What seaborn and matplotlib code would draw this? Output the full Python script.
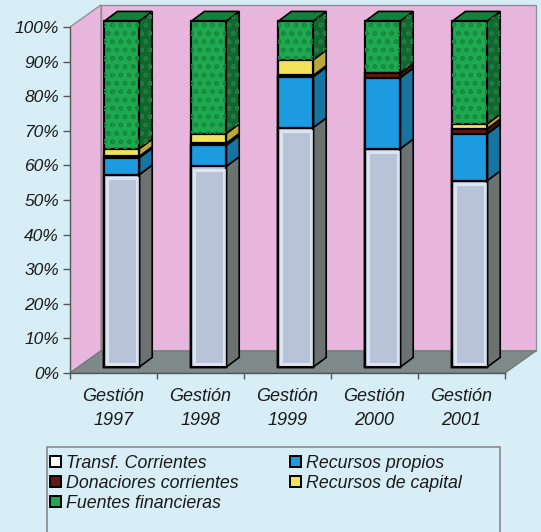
import numpy as np
import pandas as pd
import matplotlib
matplotlib.use("Agg")
import matplotlib.pyplot as plt
from matplotlib.patches import Polygon, Patch, Rectangle
import seaborn as sns

# ---- data (% of total income per fiscal year) ----
years = ["1997", "1998", "1999", "2000", "2001"]
categories = [f"Gestión\n{y}" for y in years]
transf_corrientes = [55.6, 58.0, 69.2, 63.1, 53.9]
recursos_propios = [4.9, 6.1, 14.7, 20.5, 13.5]
donaciones_corrientes = [0.4, 0.6, 0.4, 1.4, 1.5]
recursos_capital = [2.2, 2.8, 4.5, 0.0, 1.4]
fuentes_financieras = [36.9, 32.5, 11.2, 15.0, 29.7]

series_names = ["Transf. Corrientes", "Recursos propios", "Donaciores corrientes",
                "Recursos de capital", "Fuentes financieras"]
series_values = [transf_corrientes, recursos_propios, donaciones_corrientes,
                 recursos_capital, fuentes_financieras]
front_colors = ["#b8c3d8", "#1c9be0", "#6a1515", "#f2e35a", "#20a851"]
side_colors = ["#6c7272", "#17739f", "#480c0c", "#b9a93a", "#0f6830"]
tick_values = list(range(0, 101, 10))
tick_labels = [f"{v}%" for v in tick_values]

sns.set_theme(style="white")
plt.rcParams["font.family"] = ["Liberation Sans", "DejaVu Sans"]
plt.rcParams["hatch.linewidth"] = 0.9

BG = "#d7eef6"
WALL = "#e8b5dd"
FLOOR = "#7e8a89"
TXT = "#1a1a1a"

fig = plt.figure(figsize=(5.41, 5.32), dpi=100, facecolor=BG)
ax = fig.add_axes([70 / 541, 1 - 373 / 532, 471 / 541, 373 / 532])
ax.set_facecolor("none")

# depth of the box (walls / floor) and of each bar, in data units
DX, DY = 0.356, 6.4
OX, OY = 0.095, 1.7          # bar front offset from the floor front edge
BX, BY = 0.15, 2.8           # bar depth
BW = 0.40                    # bar width
n = len(categories)

# ---- walls and floor ----
x0, x1 = -0.5, n - 0.5
ax.add_patch(Polygon([(x0, 0), (x0, 100), (x0 + DX, 100 + DY), (x0 + DX, DY)],
                     closed=True, fc=WALL, ec="#8c8c8c", lw=0.9, zorder=0))
ax.add_patch(Polygon([(x0 + DX, DY), (x0 + DX, 100 + DY), (x1 + DX, 100 + DY), (x1 + DX, DY)],
                     closed=True, fc=WALL, ec="#8c8c8c", lw=0.9, zorder=0))
ax.add_patch(Polygon([(x0, 0), (x1, 0), (x1 + DX, DY), (x0 + DX, DY)],
                     closed=True, fc=FLOOR, ec="#6f7777", lw=0.9, zorder=0.5))

# ---- stacked bars (front faces) drawn as cumulative layers ----
cum = np.cumsum(np.array(series_values), axis=0)   # shape (series, categories)

for k in range(len(series_names) - 1, -1, -1):
    before = len(ax.patches)
    sns.barplot(x=categories, y=cum[k], order=categories, color=front_colors[k],
                width=BW, edgecolor="black", linewidth=1.6, saturation=1,
                ax=ax, zorder=3)
    for p in ax.patches[before:]:
        p.set_x(p.get_x() + OX)
        p.set_y(p.get_y() + OY)
        p.set_zorder(3 + (len(series_names) - k) * 0.01)

# soft highlight inside the light segment, texture on the green one
for i in range(n):
    xl = i - BW / 2 + OX
    ax.add_patch(Rectangle((xl + 0.03, OY + 0.9), BW - 0.06, transf_corrientes[i] - 1.8,
                           fc="none", ec="#e4eef8", lw=2.2, alpha=0.8, zorder=3.1))
    bottom = cum[-2][i] + OY
    ax.add_patch(Rectangle((xl, bottom), BW, fuentes_financieras[i], fc="none",
                           ec="#118a3d", lw=0, hatch="oo", zorder=3.2))

# ---- side and top faces ----
for i in range(n):
    xr = i + BW / 2 + OX
    xl = i - BW / 2 + OX
    bottoms = np.concatenate([[0], cum[:-1, i]]) + OY
    tops = cum[:, i] + OY
    for k in range(len(series_names)):
        b, t = bottoms[k], tops[k]
        if t - b <= 0:
            continue
        ax.add_patch(Polygon([(xr, b), (xr + BX, b + BY), (xr + BX, t + BY), (xr, t)],
                             closed=True, fc=side_colors[k], ec="black", lw=1.2, zorder=2.9))
        if k == len(series_names) - 1:
            ax.add_patch(Polygon([(xr, b), (xr + BX, b + BY), (xr + BX, t + BY), (xr, t)],
                                 closed=True, fc="none", ec="#2a7a45", lw=0, hatch="oo",
                                 zorder=2.95))
    top = tops[-1]
    ax.add_patch(Polygon([(xl, top), (xl + BX, top + BY), (xr + BX, top + BY), (xr, top)],
                         closed=True, fc="#12813c", ec="black", lw=1.2, zorder=2.9))

# ---- axes ----
ax.set_xlim(-0.5, -0.5 + 471 / 87)
ax.set_ylim(0, 373 / 3.46)
for s in ["top", "right"]:
    ax.spines[s].set_visible(False)
ax.spines["left"].set_bounds(0, 100)
ax.spines["bottom"].set_bounds(x0, x1)
for s in ["left", "bottom"]:
    ax.spines[s].set_color("#555555")
    ax.spines[s].set_linewidth(1.0)
    ax.spines[s].set_zorder(4)

ax.set_yticks(tick_values)
ax.set_yticklabels(tick_labels, fontsize=12.5, style="italic", color=TXT)
ax.tick_params(axis="y", direction="out", length=5, width=1, color="#555555", pad=3, left=True)
ax.set_xticks(range(n))
ax.set_xticklabels(categories, fontsize=13, style="italic", color=TXT, linespacing=1.5)
ax.set_xticks(np.arange(-0.5, n, 1.0), minor=True)
ax.tick_params(axis="x", which="major", length=0, pad=11)
ax.tick_params(axis="x", which="minor", direction="out", length=4, width=1,
               color="#555555", bottom=True)
ax.set_xlabel("")
ax.set_ylabel("")
ax.grid(False)

# ---- legend ----
order = [0, 2, 4, 1, 3]
handles = [Patch(facecolor=front_colors[k] if k else "white", edgecolor="black",
                 linewidth=1.4) for k in order]
labels = [series_names[k] for k in order]
fig.add_artist(Rectangle((47 / 541, 1 - 545 / 532), 453 / 541, 98 / 532,
                         transform=fig.transFigure, fc="none", ec="#8a8a8a", lw=1.2))
fig.legend(handles, labels, loc="upper left", bbox_to_anchor=(41 / 541, 1 - 446 / 532),
           ncol=2, frameon=False, borderpad=0, labelspacing=0.17, handlelength=0.6,
           handleheight=0.6, handletextpad=0.3, columnspacing=2.9,
           prop={"size": 12.8, "style": "italic"}, labelcolor=TXT)

fig.savefig("out.png", dpi=100, facecolor=BG)
